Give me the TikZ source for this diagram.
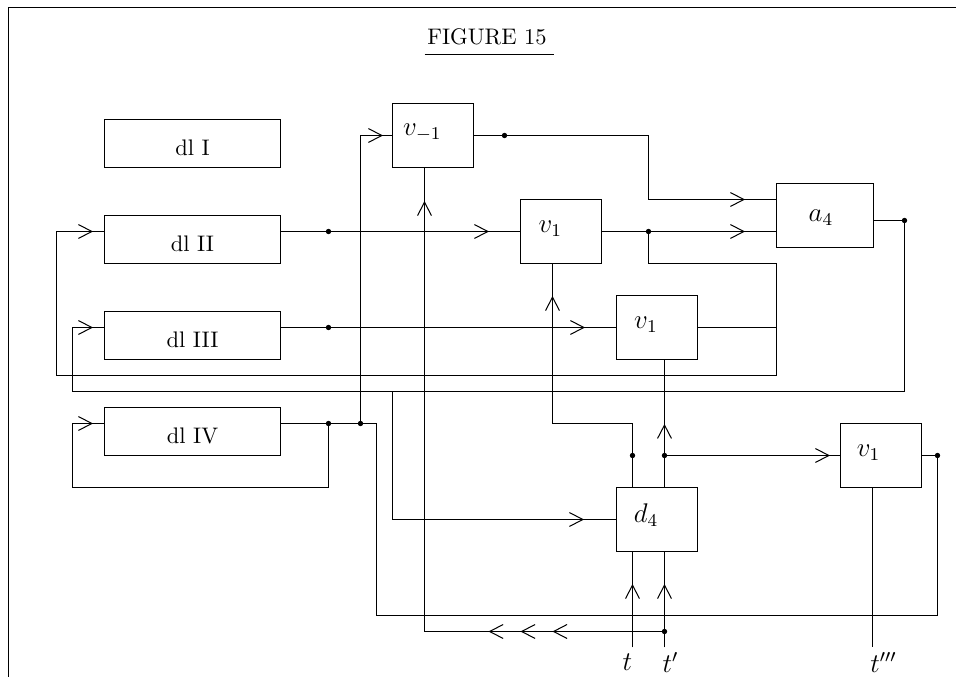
\documentclass[tikz,border=0pt]{standalone}
\usetikzlibrary{arrows.meta,decorations.markings,calc}
\tikzset{
  barb/.tip={Straight Barb[length=6pt,width=6.2pt]},
  blk/.style={draw, line width=0.45pt, rectangle, inner sep=0pt},
  dlbox/.style={blk, minimum width=78.2pt, minimum height=21.33pt, text height=10.5pt, text depth=0pt},
  vbox/.style={blk, minimum width=36pt, minimum height=28.44pt},
  mlab/.style={font=\large},
  jdot/.style={circle, fill, inner sep=0pt, minimum size=2.4pt},
  chevmark/.style={postaction={decorate}, decoration={markings, mark=at position #1 with {\arrow{barb}}}},
}
\begin{document}
\begin{tikzpicture}[x=0.4444pt, y=-0.4444pt, line width=0.45pt]
\useasboundingbox (-0.5,-0.5) rectangle (955.5,676.5);
% frame
\coordinate (fbl) at (8,677);
\coordinate (ftl) at (8,7);
\coordinate (ftr) at (956,7);
\draw[line width=0.75pt] (fbl) -- (ftl) -- (ftr);
% title
\node (title) at (486.5,36) {FIGURE 15};
\coordinate (ulL) at (424,54);
\coordinate (ulR) at (553,54);
\draw (ulL) -- (ulR);
% blocks
\node[dlbox] (dlI) at (192,143) {dl I};
\node[dlbox] (dlII) at (192,239) {dl II};
\node[dlbox] (dlIII) at (192,335) {dl III};
\node[dlbox] (dlIV) at (192,431) {dl IV};
\node[vbox, label={[mlab,xshift=-4.7pt,yshift=1.3pt]center:$v_{-1}$}] (vm1) at (432.5,135) {};
\node[vbox, label={[mlab,xshift=-4.7pt,yshift=1.3pt]center:$v_1$}] (v1a) at (560.5,231) {};
\node[vbox, minimum width=43.1pt, label={[mlab,xshift=-1.8pt,yshift=-1pt]center:$a_4$}] (a4) at (824.5,215) {};
\node[vbox, label={[mlab,xshift=-4.9pt,yshift=1.1pt]center:$v_1$}] (v1b) at (656.5,327) {};
\node[vbox, label={[mlab,xshift=-5.5pt,yshift=1.3pt]center:$v_1$}] (v1c) at (880.5,455) {};
\node[vbox, label={[mlab,xshift=-4.8pt,yshift=2pt]center:$d_4$}] (d4) at (656.5,519) {};
% junction dots
\node[jdot] (j1) at (328,231) {};
\node[jdot] (j2) at (328,327) {};
\node[jdot] (j3) at (328,423) {};
\node[jdot] (j4) at (360,423) {};
\node[jdot] (j5) at (504,135) {};
\node[jdot] (j6) at (648,231) {};
\node[jdot] (j7) at (904,220) {};
\node[jdot] (j8) at (632,455) {};
\node[jdot] (j9) at (664,455) {};
\node[jdot] (j10) at (937,455) {};
\node[jdot] (j11) at (664,631) {};
% free ends and labels
\coordinate (tin) at (632,647);
\coordinate (tpin) at (664,647);
\coordinate (tppp) at (872,647);
\node[mlab] (lt) at (627,662) {$t$};
\node[mlab] (ltp) at (670,662) {$t'$};
\node[mlab] (ltppp) at (883,662) {$t'''$};
% connectors
\draw[chevmark=-13.78pt] ($(dlII.east)+(0,-8)$) -- (j1.center) -- (v1a.west);
\draw[chevmark=-13.78pt] ($(dlIII.east)+(0,-8)$) -- (j2.center) -- (v1b.west);
\draw ($(dlIV.east)+(0,-8)$) -- (j3.center) -- (j4.center) -- (376,423) -- (376,615) -- (937,615) -- (j10.center) -- (v1c.east);
\draw[chevmark=-4.89pt] (j3.center) -- (328,487) -- (72,487) -- (72,423) -- ($(dlIV.west)+(0,-8)$);
\draw[chevmark=-4pt] (j4.center) -- (360,135) -- (vm1.west);
\draw[chevmark=-13.78pt] (vm1.east) -- (j5.center) -- (648,135) -- (648,199) -- ($(a4.west)+(0,-16)$);
\draw[chevmark=-13.78pt] (v1a.east) -- (j6.center) -- ($(a4.west)+(0,16)$);
\draw[chevmark=-4.89pt] (j6.center) -- (648,263) -- (776,263) -- (776,375) -- (56,375) -- (56,231) -- ($(dlII.west)+(0,-8)$);
\draw (v1b.east) -- (776,327);
\draw[chevmark=-4.89pt] ($(a4.east)+(0,5)$) -- (j7.center) -- (904,391) -- (72,391) -- (72,327) -- ($(dlIII.west)+(0,-8)$);
\draw[chevmark=-14.22pt] (392,391) -- (392,519) -- (d4.west);
\draw[chevmark=-14.22pt] ($(d4.north)+(-24.5,0)$) -- (j8.center) -- (632,423) -- (552,423) -- ($(v1a.south)+(-8.5,0)$);
\draw[chevmark=-28.4pt] ($(d4.north)+(7.5,0)$) -- (j9.center) -- ($(v1b.south)+(7.5,0)$);
\draw[chevmark=-4.44pt] (j9.center) -- (v1c.west);
\draw[chevmark=-14.22pt] (tin) -- ($(d4.south)+(-24.5,0)$);
\draw[chevmark=-14.22pt] (tpin) -- ($(d4.south)+(7.5,0)$);
\draw[postaction={decorate}, decoration={markings,
    mark=at position 49.8pt with {\arrow{barb}},
    mark=at position 64pt with {\arrow{barb}},
    mark=at position 78.2pt with {\arrow{barb}},
    mark=at position -14.67pt with {\arrow{barb}}}]
  (j11.center) -- (424,631) -- ($(vm1.south)+(-8.5,0)$);
\draw ($(v1c.south)+(-8.5,0)$) -- (tppp);
\end{tikzpicture}
\end{document}
